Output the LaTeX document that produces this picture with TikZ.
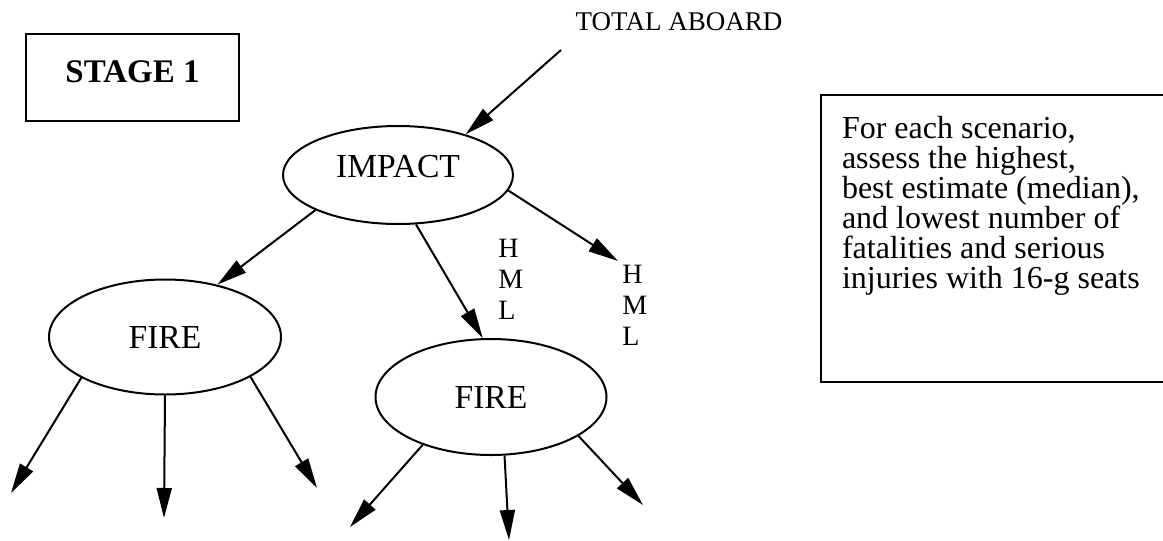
\documentclass[tikz,border=0pt]{standalone}
\usepackage{fontspec}
\setmainfont{Liberation Serif}
\usetikzlibrary{shapes.geometric, arrows.meta, positioning, calc}

\begin{document}
\begin{tikzpicture}[
    x=0.5pt, y=-0.5pt,
    % --- BASE STYLES ---
    event/.style={ellipse, draw=black, line width=1pt, inner sep=0pt, font=\fontsize{16.8}{19}\selectfont},
    stagebox/.style={rectangle, draw=black, line width=1pt, minimum width=106.5pt, minimum height=43.5pt, text depth=5pt, font=\fontsize{16.5}{19}\selectfont\bfseries},
    notebox/.style={rectangle, draw=black, line width=1pt, inner xsep=10.5pt, inner ysep=10.5pt, anchor=north west, font=\fontsize{16}{15}\selectfont},
    caption/.style={inner sep=0pt, font=\fontsize{13.5}{16}\selectfont},
    hml/.style={align=left, inner sep=2pt, anchor=north west, font=\fontsize{14}{15.5}\selectfont},
    line/.style={draw=black, line width=1pt, -{Triangle[length=15pt, width=7.5pt]}}
]
\useasboundingbox (0,0) rectangle (1163,541);

% ==========================================
% TOP: STAGE LABEL AND ENTRY
% ==========================================
\node[stagebox] (stage) at (132.5,77) {STAGE 1};
\node[caption] (total) at (679,22) {TOTAL ABOARD};
\coordinate (total_in) at (561,50);

% ==========================================
% EVENT TREE
% ==========================================
\node[event, minimum width=115pt, minimum height=49pt, text depth=9pt] (impact) at (398,175) {IMPACT};
\node[event, minimum width=116pt, minimum height=57.5pt] (fire_l) at (165,337) {FIRE};
\node[event, minimum width=115.5pt, minimum height=58pt] (fire_r) at (491,397) {FIRE};

\node[hml] (hml_a) at (494,235) {H\\M\\L};
\node[hml] (hml_b) at (618,261) {H\\M\\L};

\draw[line] (total_in) -- (impact.31);
\draw[line] (impact.203) -- (fire_l.45);
\draw[line] (impact.290) -- (fire_r.98);
\draw[line] (impact.352) -- (hml_b.north west);

% Open branches below each FIRE
\coordinate (l1) at (11,493);
\coordinate (l2) at (164,518);
\coordinate (l3) at (317,488);
\coordinate (r1) at (350,527);
\coordinate (r2) at (509,540);
\coordinate (r3) at (643,505);

\foreach \a/\t in {206/l1, 270/l2, 335/l3} {
    \draw[line] (fire_l.\a) -- (\t);
}
\foreach \a/\t in {215/r1, 283/r2, 336/r3} {
    \draw[line] (fire_r.\a) -- (\t);
}

% ==========================================
% RIGHT: ASSESSMENT NOTE
% ==========================================
\node[notebox] (note) at (820,94) {\begin{minipage}[t][122.5pt][t]{185pt}
For each scenario,\\
assess the highest,\\
best estimate (median),\\
and lowest number of\\
fatalities and serious\\
injuries with 16-g seats
\end{minipage}};

\end{tikzpicture}
\end{document}
